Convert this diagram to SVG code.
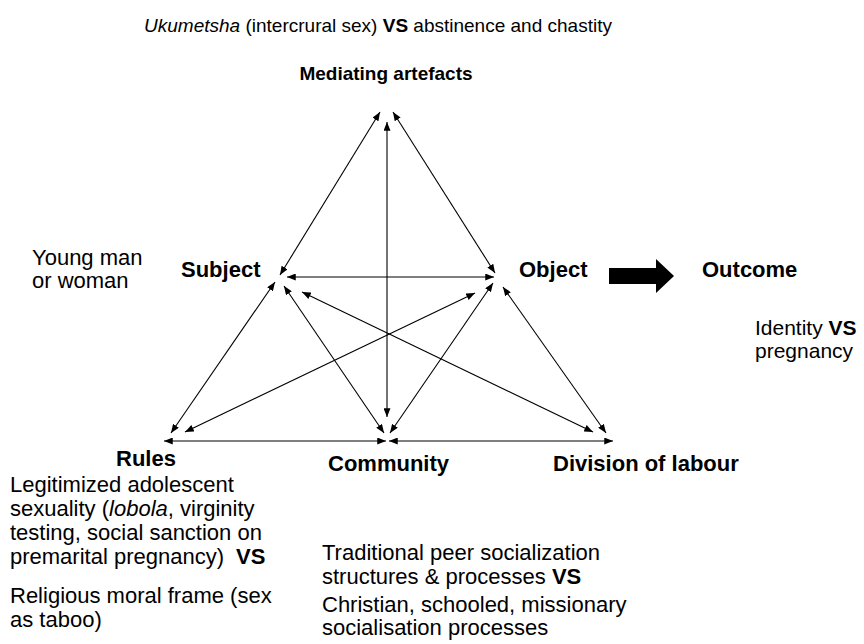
<svg xmlns="http://www.w3.org/2000/svg" width="864" height="644" viewBox="0 0 864 644">
<style>
text{font-family:"Liberation Sans",Arial,sans-serif;fill:#000}
.b{font-weight:bold}
.i{font-style:italic}
.body{font-size:22px}
.lbl{font-size:22px;font-weight:bold}
.c line{stroke:#000;stroke-width:1.1;marker-start:url(#ah);marker-end:url(#ah)}
</style>
<defs>
<marker id="ah" viewBox="0 0 10 8" refX="10" refY="4" markerWidth="9" markerHeight="7" markerUnits="userSpaceOnUse" orient="auto-start-reverse">
<path d="M0,0 L10,4 L0,8 z" fill="#000"/>
</marker>
</defs>
<rect width="864" height="644" fill="#fff"/>
<g id="title"><text x="378" y="32" font-size="19" text-anchor="middle"><tspan class="i">Ukumetsha</tspan> (intercrural sex) <tspan class="b">VS</tspan> abstinence and chastity</text></g>
<g id="mediating"><text x="386" y="80" font-size="19" class="b" text-anchor="middle">Mediating artefacts</text></g>
<g id="young"><text class="body" x="32" y="265">Young man</text><text class="body" x="32" y="288">or woman</text></g>
<g id="subject"><text class="lbl" x="181" y="277">Subject</text></g>
<g id="object"><text class="lbl" x="519" y="277">Object</text></g>
<g id="outcome-arrow"><path d="M609,268 H656 V259 L674,276 L656,293 V284 H609 z" fill="#000"/></g>
<g id="outcome"><text class="lbl" x="702" y="277">Outcome</text></g>
<g id="identity"><text x="755" y="335" font-size="21">Identity <tspan class="b">VS</tspan></text><text x="755" y="358" font-size="21">pregnancy</text></g>
<g id="rules"><text class="lbl" x="116" y="466">Rules</text></g>
<g id="rules-text">
<text class="body" x="10" y="492">Legitimized adolescent</text>
<text class="body" x="10" y="516">sexuality (<tspan class="i">lobola</tspan>, virginity</text>
<text class="body" x="10" y="540">testing, social sanction on</text>
<text class="body" x="10" y="564">premarital pregnancy)<tspan class="b" dx="12">VS</tspan></text>
<text class="body" x="10" y="603">Religious moral frame (sex</text>
<text class="body" x="10" y="627">as taboo)</text>
</g>
<g id="community"><text class="lbl" x="328" y="471">Community</text></g>
<g id="division"><text class="lbl" x="553" y="471">Division of labour</text></g>
<g id="community-text">
<text class="body" x="322" y="560">Traditional peer socialization</text>
<text class="body" x="322" y="584">structures &amp; processes <tspan class="b">VS</tspan></text>
<text class="body" x="322" y="612">Christian, schooled, missionary</text>
<text class="body" x="322" y="635">socialisation processes</text>
</g>
<g id="connectors" class="c">
<line x1="380" y1="112" x2="280" y2="275"/>
<line x1="393" y1="112" x2="495" y2="273"/>
<line x1="387" y1="122" x2="387" y2="417"/>
<line x1="287" y1="277" x2="494" y2="277"/>
<line x1="275" y1="282" x2="171" y2="433"/>
<line x1="284" y1="286" x2="384" y2="433"/>
<line x1="302" y1="292" x2="593" y2="432"/>
<line x1="475" y1="293" x2="185" y2="432"/>
<line x1="493" y1="283" x2="390" y2="433"/>
<line x1="503" y1="287" x2="606" y2="433"/>
<line x1="164" y1="441" x2="386" y2="441"/>
<line x1="389" y1="441" x2="613" y2="441"/>
</g>
</svg>
